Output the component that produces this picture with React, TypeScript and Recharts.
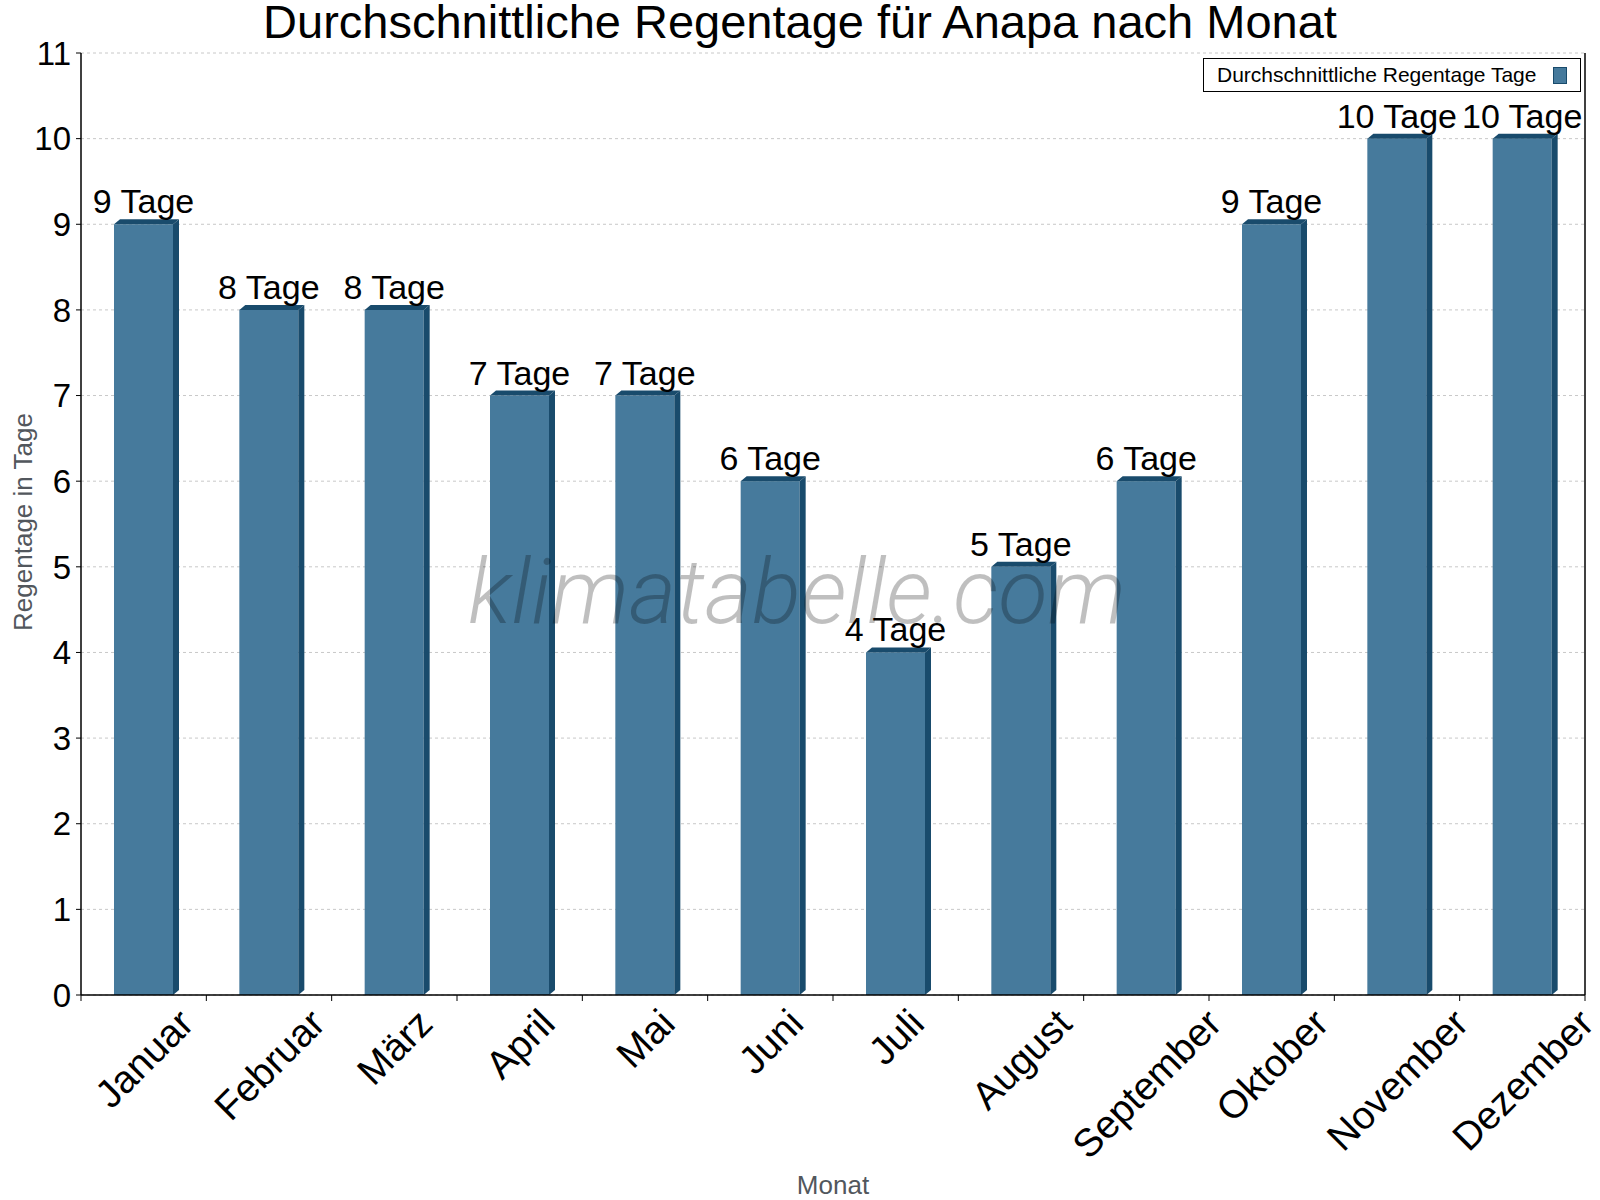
import { Bar, BarChart, CartesianGrid, LabelList, Legend, XAxis, YAxis } from "recharts";

const months = [
  "Januar",
  "Februar",
  "März",
  "April",
  "Mai",
  "Juni",
  "Juli",
  "August",
  "September",
  "Oktober",
  "November",
  "Dezember",
];
const rainDays = [9, 8, 8, 7, 7, 6, 4, 5, 6, 9, 10, 10];
const dayTicks = [0, 1, 2, 3, 4, 5, 6, 7, 8, 9, 10, 11];

const seriesName = "Durchschnittliche Regentage Tage";
const title = "Durchschnittliche Regentage für Anapa nach Monat";

const data = months.map((month, i) => ({ month, days: rainDays[i] }));

const W = 1600;
const H = 1200;
const FONT = '"Liberation Sans", Arial, sans-serif';
const FRONT = "#467a9c";
const SIDE = "#194b6c";
const PLOT_BOTTOM = 995;
const DEPTH_X = 6;
const DEPTH_Y = 5;
const MONTH_SIZE = 39;

let measureCtx: CanvasRenderingContext2D | null = null;
function textWidth(s: string, size: number) {
  if (!measureCtx) measureCtx = document.createElement("canvas").getContext("2d");
  if (!measureCtx) return s.length * size * 0.55;
  measureCtx.font = `${size}px "Liberation Sans"`;
  return measureCtx.measureText(s).width;
}

// bar with a shallow extruded side and top
function Bar3D(props: any) {
  const { x, y, width, height } = props;
  if (height <= 0) return null;
  const r = x + width;
  return (
    <g>
      <rect x={x} y={y} width={width} height={height} fill={FRONT} />
      <polygon
        points={`${x},${y} ${x + DEPTH_X},${y - DEPTH_Y} ${r + DEPTH_X},${y - DEPTH_Y} ${r},${y}`}
        fill={SIDE}
      />
      <polygon
        points={`${r},${y} ${r + DEPTH_X},${y - DEPTH_Y} ${r + DEPTH_X},${y + height - DEPTH_Y} ${r},${y + height}`}
        fill={SIDE}
      />
    </g>
  );
}

function ValueLabel(props: any) {
  const { x, y, width, value } = props;
  return (
    <text
      x={x + width / 2}
      y={y - 11}
      textAnchor="middle"
      fontFamily={FONT}
      fontSize={34}
      fill="#000"
    >
      {`${value} Tage`}
    </text>
  );
}

// month label rotated about its own centre, hanging below the axis,
// plus the boundary tick marks between categories
function MonthTick(props: any) {
  const { x, payload, index } = props;
  const half = payload?.offset || 62.67;
  const label = String(payload.value);
  const w = textWidth(label, MONTH_SIZE);
  const cy = 1006 + ((w + 0.72 * MONTH_SIZE) * 0.7071) / 2;
  return (
    <g>
      <line x1={x - half} x2={x - half} y1={PLOT_BOTTOM} y2={PLOT_BOTTOM + 6} stroke="#000" />
      {index === months.length - 1 && (
        <line x1={x + half} x2={x + half} y1={PLOT_BOTTOM} y2={PLOT_BOTTOM + 6} stroke="#000" />
      )}
      <text
        x={x}
        y={cy}
        dy="0.36em"
        textAnchor="middle"
        transform={`rotate(-45 ${x} ${cy})`}
        fontFamily={FONT}
        fontSize={MONTH_SIZE}
        fill="#000"
      >
        {label}
      </text>
    </g>
  );
}

function LegendBox() {
  return (
    <div
      style={{
        boxSizing: "border-box",
        width: 378,
        height: 34,
        border: "1px solid #000",
        background: "#fff",
        display: "flex",
        alignItems: "center",
        justifyContent: "space-between",
        padding: "0 13px 0 13px",
        fontFamily: FONT,
        fontSize: 21,
        color: "#000",
      }}
    >
      <span>{seriesName}</span>
      <span
        style={{
          display: "inline-block",
          width: 12,
          height: 15,
          background: FRONT,
          border: `1px solid ${SIDE}`,
        }}
      />
    </div>
  );
}

export default function App() {
  return (
    <div style={{ position: "absolute", left: 0, top: 0, width: W, height: H, background: "#fff" }}>
      <BarChart width={W} height={H} data={data} margin={{ top: 53, right: 0, bottom: 0, left: 0 }}>
        <CartesianGrid vertical={false} stroke="#c8c8c8" strokeDasharray="3 3" />
        <XAxis
          dataKey="month"
          height={205}
          interval={0}
          tickLine={false}
          axisLine={{ stroke: "#000", strokeWidth: 1.5 }}
          tick={<MonthTick />}
        />
        <YAxis
          width={81}
          domain={[0, 11]}
          ticks={dayTicks}
          interval={0}
          tickSize={5}
          tickMargin={5}
          axisLine={{ stroke: "#000", strokeWidth: 1.5 }}
          tickLine={{ stroke: "#000" }}
          tick={{ fontFamily: FONT, fontSize: 33, fill: "#000" }}
        />
        <YAxis
          yAxisId="frame"
          orientation="right"
          width={15}
          tick={false}
          tickLine={false}
          axisLine={{ stroke: "#000", strokeWidth: 1.5 }}
        />
        <Legend
          layout="vertical"
          align="center"
          verticalAlign="middle"
          content={<LegendBox />}
          wrapperStyle={{ left: 1203, top: 58, width: 378, height: 34 }}
        />
        <Bar dataKey="days" name={seriesName} barSize={59} fill={FRONT} shape={Bar3D} isAnimationActive={false}>
          <LabelList dataKey="days" content={ValueLabel} />
        </Bar>
      </BarChart>
      <svg
        width={W}
        height={H}
        style={{ position: "absolute", left: 0, top: 0, pointerEvents: "none" }}
      >
        <text x={800} y={38} textAnchor="middle" fontFamily={FONT} fontSize={47} fill="#000">
          {title}
        </text>
        <text
          x={797}
          y={623}
          textAnchor="middle"
          fontFamily='Roboto, "Liberation Sans", sans-serif'
          fontWeight={300}
          fontStyle="italic"
          fontSize={90}
          textLength={658}
          lengthAdjust="spacingAndGlyphs"
          fill="#000"
          fillOpacity={0.25}
        >
          klimatabelle.com
        </text>
        <text
          x={32}
          y={522}
          textAnchor="middle"
          transform="rotate(-90 32 522)"
          fontFamily={FONT}
          fontSize={26}
          fill="#52575d"
        >
          Regentage in Tage
        </text>
        <text x={833} y={1194} textAnchor="middle" fontFamily={FONT} fontSize={26} fill="#52575d">
          Monat
        </text>
      </svg>
    </div>
  );
}
